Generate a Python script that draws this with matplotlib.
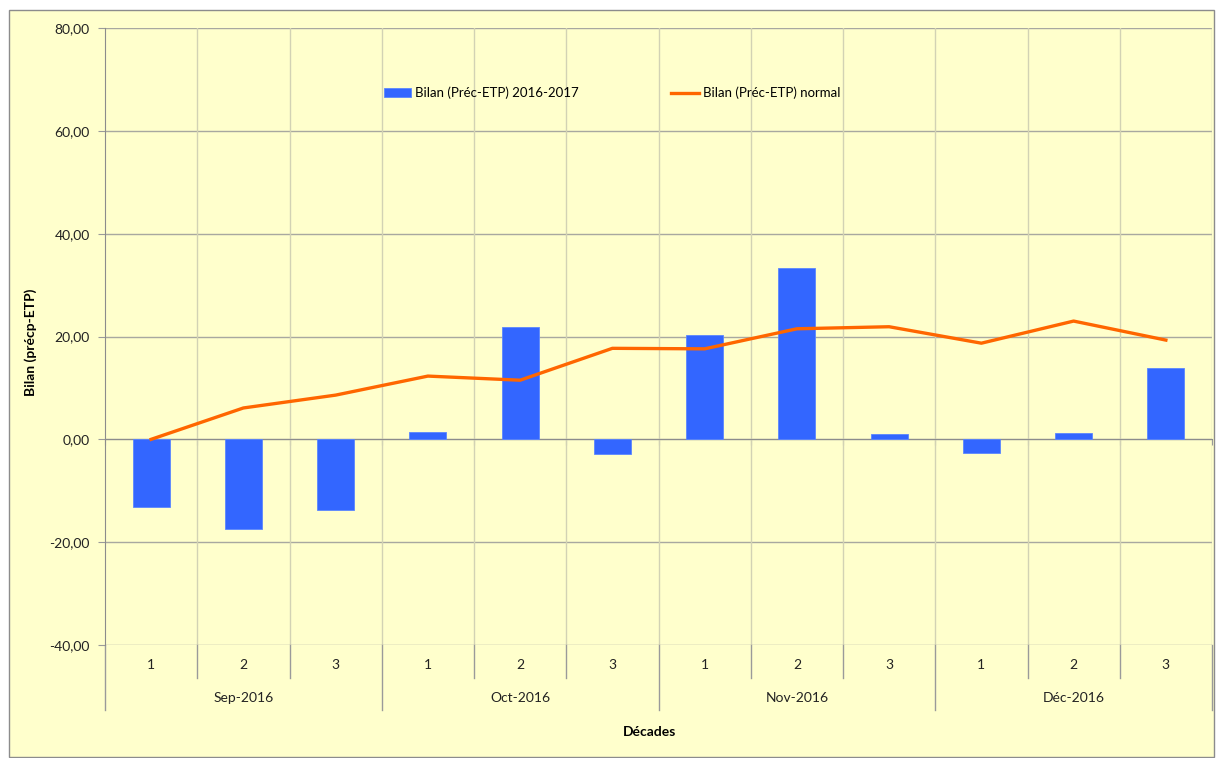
import numpy as np
from matplotlib import pyplot as plt
from matplotlib import patches, transforms

plt.rcParams['font.family'] = ['Lato', 'DejaVu Sans']

# données
decades = ['1', '2', '3'] * 4
mois = ['Sep-2016', 'Oct-2016', 'Nov-2016', 'Déc-2016']
bilan = [-13.2, -17.4, -13.7, 1.4, 21.8, -2.9, 20.2, 33.3, 1.0, -2.6, 1.2, 13.8]
normal = [0.0, 6.1, 8.6, 12.3, 11.5, 17.7, 17.6, 21.5, 21.9, 18.7, 23.0, 19.3]
yticks = [-40, -20, 0, 20, 40, 60, 80]

fond = '#FFFFCC'
gris = '#9a9a9a'
taille = 10

fig = plt.figure(figsize=(12.16, 7.58), dpi=100, facecolor='white')
cadre = patches.Rectangle((9 / 1216, 1 / 758), 1205 / 1216, 747 / 758,
                          transform=fig.transFigure, facecolor=fond,
                          edgecolor='#8c8c8c', linewidth=1, zorder=-10)
fig.patches.append(cadre)

ax = fig.add_axes([105 / 1216, 113 / 758, 1107 / 1216, 617 / 758])
ax.set_facecolor(fond)
ax.patch.set_alpha(0)

x = np.arange(len(bilan))
barres = ax.bar(x, bilan, width=0.4, color='#3366FF', edgecolor='#5a86ff', linewidth=0.6,
                label='Bilan (Préc-ETP) 2016-2017', zorder=3)
ligne, = ax.plot(x, normal, color='#FF6600', linewidth=2.4, label='Bilan (Préc-ETP) normal', zorder=4)

ax.set_xlim(-0.5, len(bilan) - 0.5)
ax.set_ylim(-40, 80)
ax.set_yticks(yticks)
ax.set_yticklabels([('%.2f' % v).replace('.', ',') for v in yticks])
ax.tick_params(axis='y', direction='out', length=5, color=gris, labelsize=taille,
               labelcolor='#222222', pad=6)

# axe horizontal placé sur zéro
ax.spines['bottom'].set_position(('data', 0))
ax.spines['bottom'].set_color('#8c8c8c')
ax.spines['left'].set_color('#8c8c8c')
ax.spines['top'].set_visible(False)
ax.spines['right'].set_visible(False)
bords = np.arange(-0.5, len(bilan), 1.0)
ax.set_xticks(bords)
ax.set_xticklabels([])
ax.tick_params(axis='x', direction='out', length=4, color=gris)

# grilles
ax.grid(axis='y', color='#a8a8a0', linewidth=1, zorder=1)
for b in bords[1:]:
    ax.axvline(b, color='#d2d2b4', linewidth=1, zorder=1)
ax.set_axisbelow(True)

# axe des catégories à deux niveaux
trans = transforms.blended_transform_factory(ax.transData, ax.transAxes)
for i, d in enumerate(decades):
    ax.text(i, -0.032, d, transform=trans, ha='center', va='center',
            fontsize=taille, color='#222222')
for j, m in enumerate(mois):
    ax.text(3 * j + 1, -0.086, m, transform=trans, ha='center', va='center',
            fontsize=taille, color='#222222')
for b in bords:
    bas = -0.105 if (b + 0.5) % 3 == 0 else -0.0535
    ax.plot([b, b], [0, bas], transform=trans, color=gris, linewidth=1, clip_on=False)

fig.text(31 / 1216, 1 - 342 / 758, 'Bilan (précp-ETP)', rotation=90, ha='center',
         va='center', fontsize=taille, fontweight='bold')
fig.text(650 / 1216, 1 - 732 / 758, 'Décades', ha='center', va='center',
         fontsize=taille, fontweight='bold')

ax.legend(handles=[barres, ligne], loc='center', bbox_to_anchor=(612 / 1216, 1 - 93 / 758),
          bbox_transform=fig.transFigure, ncol=2, frameon=False,
          fontsize=9.5, handlelength=2.1, handleheight=0.7,
          handletextpad=0.3, columnspacing=7.0)

fig.savefig('out.png', dpi=100, facecolor='white')
